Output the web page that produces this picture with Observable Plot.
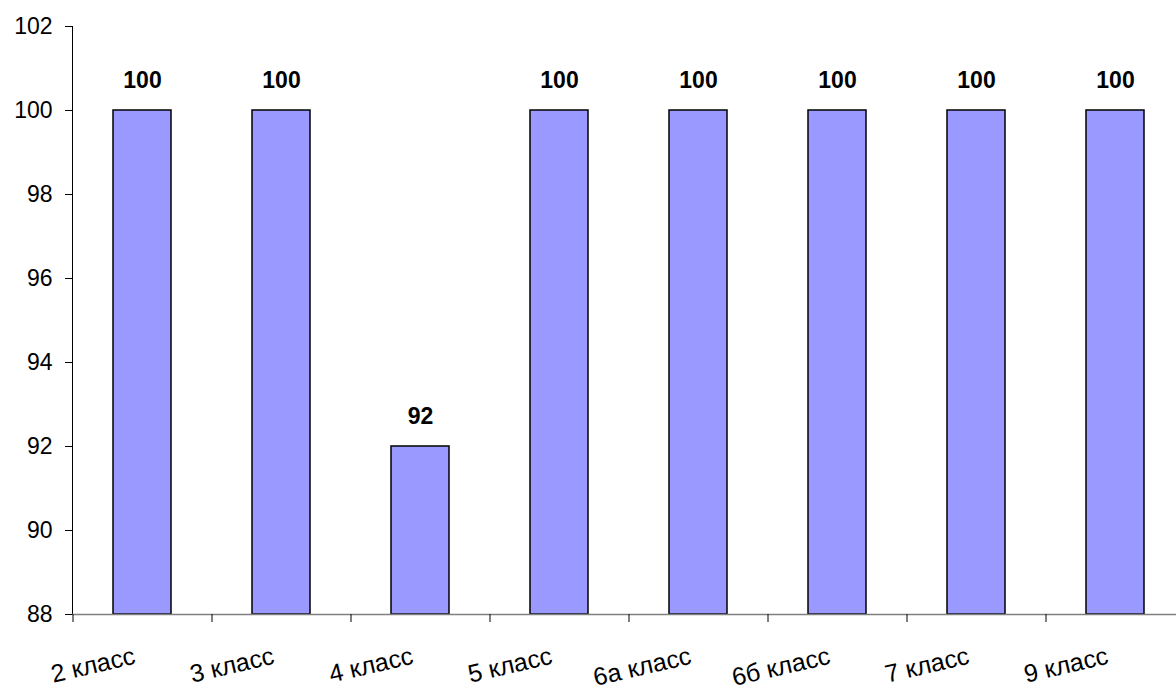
<!DOCTYPE html>
<html>
<head>
<meta charset="utf-8">
<script src="https://cdn.jsdelivr.net/npm/d3@7"></script>
<script src="https://cdn.jsdelivr.net/npm/@observablehq/plot@0.6"></script>
<style>
  html, body { margin: 0; padding: 0; background: #fff; }
</style>
</head>
<body>
<script>
const categories = ["2 класс", "3 класс", "4 класс", "5 класс", "6а класс", "6б класс", "7 класс", "9 класс"];
const values = [100, 100, 92, 100, 100, 100, 100, 100];
const yTicks = [88, 90, 92, 94, 96, 98, 100, 102];
const baseline = 88;

const data = categories.map((c, i) => ({cat: c, value: values[i]}));

const chart = Plot.plot({
  width: 1176,
  height: 693,
  marginLeft: 72,
  marginRight: 0,
  marginTop: 26,
  marginBottom: 79,
  style: {fontFamily: "Arial, 'Liberation Sans', sans-serif", fontSize: "23px", color: "black", background: "white"},
  x: {domain: categories, range: [72, 1184], paddingInner: 0.583, paddingOuter: 0.2915, axis: null},
  y: {domain: [88, 102], ticks: yTicks, tickSize: 7, tickPadding: 13, line: true, label: null, tickFormat: d => String(d)},
  marks: [
    Plot.barY(data, {x: "cat", y1: baseline, y2: "value", fill: "#9999FF", stroke: "black", strokeWidth: 1.5}),
    Plot.ruleY([baseline], {stroke: "#808080", strokeWidth: 1.5}),
    Plot.axisX({tickSize: 8, tickFormat: () => "", label: null, dx: -69.5, stroke: "black"}),
    Plot.text(data, {x: "cat", y: "value", text: d => String(d.value), dy: -30, fontWeight: "bold", fontSize: 23}),
    Plot.text(categories, {x: d => d, frameAnchor: "bottom", text: d => d, rotate: -13, textAnchor: "end", dx: -6, dy: 49, fontSize: 25})
  ]
});
document.body.appendChild(chart);
</script>
</body>
</html>
